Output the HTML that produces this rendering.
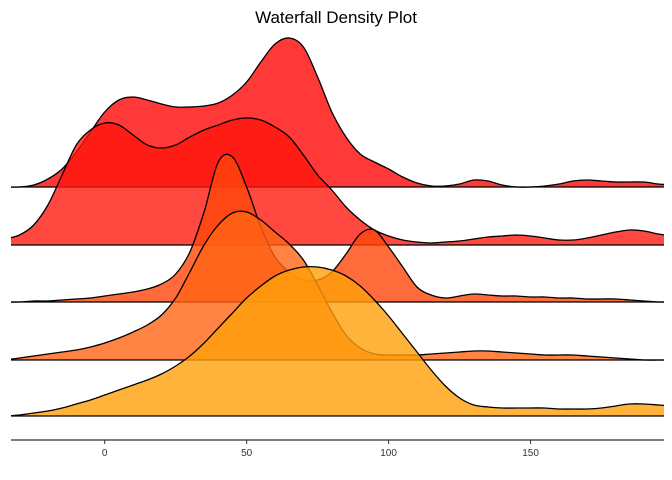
<!DOCTYPE html>
<html><head><meta charset="utf-8"><style>
body{margin:0;background:#fff;}
svg{display:block;font-family:"Liberation Sans",sans-serif;}
</style></head><body>
<svg id="chart" width="672" height="480">
<defs><clipPath id="plotclip"><rect x="11" y="0" width="653" height="480"/></clipPath></defs>
<text x="336" y="23" text-anchor="middle" font-size="17" fill="#000">Waterfall Density Plot</text>
<g id="ridges" clip-path="url(#plotclip)"></g>
<g id="axis"></g>
</svg>
<script>
const xStart=-35, xStep=5;
const row1=[0,0,2,8,18,35,55, 75,87,90,87,83,80,80,81,84,92, 105,125,143,149,140,110,75,50,33,25, 18,10,4,1,1,3,7,6,2,0, 0,1,3,6,7,6,5,5,5,3, 2];
const row2=[6,10,20,40,70,100,115, 122,120,110,100,97,100,108,115,120,125, 127,125,118,108,90,70,55,38,25,15, 9,5,3,2,3,4,6,8,9,10, 9,7,5,5,7,10,13,15,14,11, 9];
const row3=[0,0,1,1,2,3,4, 6,8,10,13,18,28,50,90,140,145, 115,75,45,30,22,22,30,48,68,72, 55,35,15,7,4,6,8,7,6,6, 5,5,4,4,3,3,3,2,1,0, 0];
const row4=[0,2,4,6,8,10,13, 17,22,28,35,45,62,88,115,135,147, 148,140,128,116,100,75,48,25,12,6, 5,5,5,6,7,8,9,9,8,7, 6,5,5,5,4,3,2,1,0,0, 0];
const row5=[0,1,3,5,8,12,16, 21,26,31,36,42,50,60,73,88,103, 118,130,140,146,149,149,146,140,130,116, 100,82,64,46,30,18,11,9,8,8, 8,8,7,7,7,8,10,12,12,11, 10];
const series=[row1,row2,row3,row4,row5];
const baselines=[187,245,302,360,416];
const colors=["rgba(255,0,0,0.78)","rgba(255,20,10,0.78)","rgba(255,70,10,0.8)","rgba(255,100,20,0.8)","rgba(255,160,10,0.8)"];
const tickValues=[0,50,100,150];
const xMin=-33,xMax=197,pxL=11,pxR=664;
const sx=v=>pxL+(v-xMin)/(xMax-xMin)*(pxR-pxL);
const NS="http://www.w3.org/2000/svg";
function spline(pts){
  let d="M"+pts[0][0].toFixed(1)+","+pts[0][1];
  for(let i=0;i<pts.length-1;i++){
    const p0=pts[Math.max(0,i-1)],p1=pts[i],p2=pts[i+1],p3=pts[Math.min(pts.length-1,i+2)];
    const c1=[p1[0]+(p2[0]-p0[0])/6,p1[1]+(p2[1]-p0[1])/6];
    const c2=[p2[0]-(p3[0]-p1[0])/6,p2[1]-(p3[1]-p1[1])/6];
    d+=" C"+c1[0].toFixed(1)+","+c1[1].toFixed(1)+" "+c2[0].toFixed(1)+","+c2[1].toFixed(1)+" "+p2[0].toFixed(1)+","+p2[1].toFixed(1);
  }
  return d;
}
const g=document.getElementById("ridges");
series.forEach((s,i)=>{
  const b=baselines[i];
  const pts=s.map((h,j)=>[sx(xStart+j*xStep),b-h]);
  const line=spline(pts);
  const fill=document.createElementNS(NS,"path");
  fill.setAttribute("d",line+" L"+pts[pts.length-1][0]+","+b+" L"+pts[0][0]+","+b+" Z");
  fill.setAttribute("fill",colors[i]);
  fill.setAttribute("stroke","none");
  
  
  g.appendChild(fill);
  const st=document.createElementNS(NS,"path");
  st.setAttribute("d",line);
  st.setAttribute("fill","none");st.setAttribute("stroke","#000");st.setAttribute("stroke-width","1.3");
  
  
  g.appendChild(st);
  const bl=document.createElementNS(NS,"line");
  bl.setAttribute("x1",pxL);bl.setAttribute("x2",pxR);bl.setAttribute("y1",b);bl.setAttribute("y2",b);
  bl.setAttribute("stroke","#000");bl.setAttribute("stroke-width","1.3");
  
  
  g.appendChild(bl);
});
const ax=document.getElementById("axis");
const al=document.createElementNS(NS,"line");
al.setAttribute("x1",pxL);al.setAttribute("x2",pxR);al.setAttribute("y1",440);al.setAttribute("y2",440);
al.setAttribute("stroke","#333");al.setAttribute("stroke-width","1.3");


ax.appendChild(al);
tickValues.forEach(t=>{
  const tk=document.createElementNS(NS,"line");
  tk.setAttribute("x1",sx(t));tk.setAttribute("x2",sx(t));tk.setAttribute("y1",440);tk.setAttribute("y2",444);
  tk.setAttribute("stroke","#333");
  
  
  ax.appendChild(tk);
  const tx=document.createElementNS(NS,"text");
  tx.setAttribute("x",sx(t));tx.setAttribute("y",456);tx.setAttribute("text-anchor","middle");
  tx.setAttribute("font-size","10");tx.setAttribute("fill","#333");
  tx.textContent=t;
  
  
  ax.appendChild(tx);
});
</script>
</body></html>
